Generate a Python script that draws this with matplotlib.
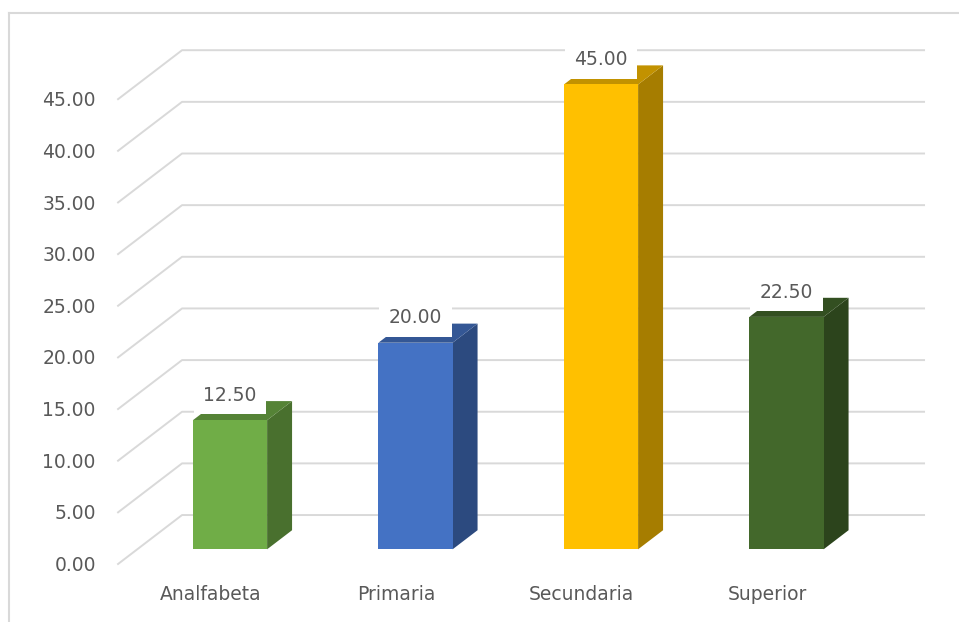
import matplotlib
matplotlib.use("Agg")
import matplotlib.pyplot as plt
from matplotlib.patches import Polygon
from matplotlib.lines import Line2D

# data
categories = ["Analfabeta", "Primaria", "Secundaria", "Superior"]
values = [12.50, 20.00, 45.00, 22.50]
ticks = [0, 5, 10, 15, 20, 25, 30, 35, 40, 45]

colors = ["#70AD47", "#4472C4", "#FFC000", "#43682B"]


def shade(hex_color, f):
    r, g, b = matplotlib.colors.to_rgb(hex_color)
    return (r * f, g * f, b * f)


# fake 3d: depth vector in data units (front grid plane z=0, back wall z=1)
DX, DY = 0.345, 4.74
Z_FRONT, Z_BACK = 0.30, 0.69
BAR_W = 0.40


def proj(x, y, z):
    return x + z * DX, y + z * DY


fig = plt.figure(figsize=(9.59, 6.22), dpi=100)
ax = fig.add_axes([0, 0, 1, 1])
ax.set_xlim(-1.1364, 4.0334)
ax.set_ylim(-5.615, 54.6)
ax.axis("off")

grid_c = "#D9D9D9"
txt_c = "#595959"
fs = 13.5

# chart border (left and top edges visible)
fig.add_artist(Line2D([9 / 959, 9 / 959], [0, 1 - 13 / 622], color=grid_c, lw=1.5))
fig.add_artist(Line2D([9 / 959, 1], [1 - 13 / 622, 1 - 13 / 622], color=grid_c, lw=1.5))

left, right = -0.5, len(categories) - 0.5
for t in ticks:
    x0, y0 = proj(left, t, 0)
    x1, y1 = proj(left, t, 1)
    x2, y2 = proj(right, t, 1)
    ax.plot([x0, x1, x2], [y0, y1, y2], color=grid_c, lw=1.4, zorder=1)
    ax.text(x0 - 0.12, y0 - 0.15, f"{t:.2f}", ha="right", va="center",
            fontsize=fs, color=txt_c)

for i, (cat, v, c) in enumerate(zip(categories, values, colors)):
    xl, xr = i - BAR_W / 2, i + BAR_W / 2
    front = [proj(xl, 0, Z_FRONT), proj(xr, 0, Z_FRONT),
             proj(xr, v, Z_FRONT), proj(xl, v, Z_FRONT)]
    side = [proj(xr, 0, Z_FRONT), proj(xr, 0, Z_BACK),
            proj(xr, v, Z_BACK), proj(xr, v, Z_FRONT)]
    top = [proj(xl, v, Z_FRONT), proj(xr, v, Z_FRONT),
           proj(xr, v, Z_BACK), proj(xl, v, Z_BACK)]
    ax.add_patch(Polygon(side, closed=True, fc=shade(c, 0.65), ec="none", zorder=2))
    ax.add_patch(Polygon(top, closed=True, fc=shade(c, 0.76), ec="none", zorder=2))
    ax.add_patch(Polygon(front, closed=True, fc=c, ec="none", zorder=3))

    lx, ly = proj(i, v, Z_FRONT)
    ax.text(lx, ly + 2.4, f"{v:.2f}", ha="center", va="center", fontsize=fs,
            color=txt_c, zorder=5,
            bbox=dict(boxstyle="square,pad=0.5", fc="white", ec="none"))

    cx, cy = proj(i, 0, 0)
    ax.text(cx, -3.0, cat, ha="center", va="center", fontsize=fs, color=txt_c)

fig.savefig("out.png", dpi=100)
